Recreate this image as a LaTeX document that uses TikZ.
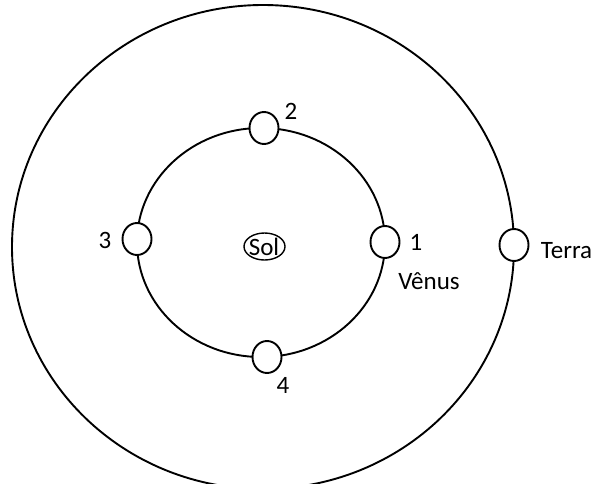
\documentclass[tikz,border=0pt]{standalone}
\usepackage{fontspec}
\setmainfont{Carlito}
\usetikzlibrary{shapes.geometric}
\tikzset{
  orbit/.style={draw=black, line width=1.9pt},
  planet/.style={draw=black, fill=white, line width=1.9pt, ellipse, inner sep=0pt, minimum width=29pt, minimum height=32pt},
  sunbox/.style={draw=black, fill=white, line width=1.4pt, ellipse, inner sep=0pt, minimum width=41pt, minimum height=27pt},
  lbl/.style={anchor=base, inner sep=0pt, font=\fontsize{25}{30}\selectfont}
}
\begin{document}
\begin{tikzpicture}[x=1pt, y=-1pt]
\useasboundingbox (0,0) rectangle (596,483);
\clip (0,0) rectangle (596,483);
\fill[white] (0,0) rectangle (596,483);
% orbits
\draw[orbit] (263,247) ellipse [x radius=251, y radius=242];
\draw[orbit] (261,242.5) ellipse [x radius=124, y radius=114.5];
% sun
\node[sunbox] (sol) at (264.5,246.5) {};
\node[lbl] (soltext) at (264,255) {Sol};
% planets
\node[planet] (p1) at (385,242) {};
\node[planet] (p2) at (264,128) {};
\node[planet] (p3) at (137,239) {};
\node[planet] (p4) at (267,357) {};
\node[planet] (terra) at (514,245) {};
% labels
\node[lbl] (l1) at (416,250) {1};
\node[lbl] (l2) at (291,119) {2};
\node[lbl] (l3) at (105,248) {3};
\node[lbl] (l4) at (283,393) {4};
\node[lbl] (venus) at (429,289) {Vênus};
\node[lbl] (terratext) at (566.5,258) {Terra};
\end{tikzpicture}
\end{document}
